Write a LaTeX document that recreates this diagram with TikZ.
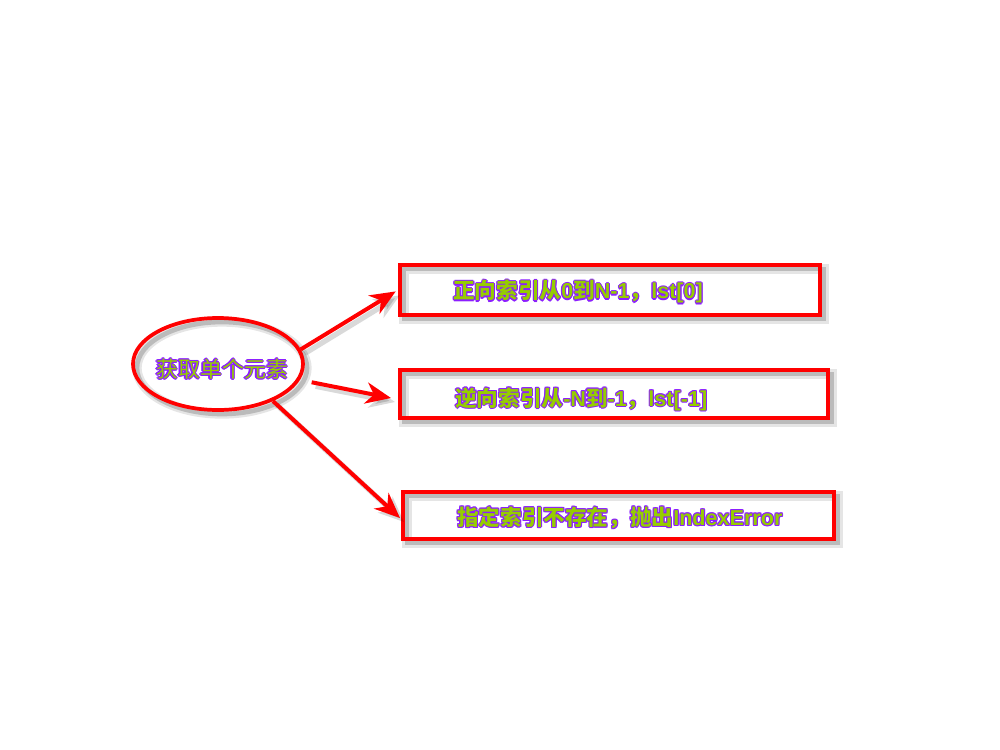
\documentclass[tikz,border=0pt]{standalone}
\usepackage{fontspec}
\setmainfont{Liberation Sans}
\newfontfamily\cjk{Noto Sans CJK SC}
\usetikzlibrary{arrows.meta,calc,shapes.geometric}
\definecolor{boxred}{RGB}{255,0,0}
\definecolor{halo}{RGB}{140,30,255}
\definecolor{txtc}{RGB}{150,205,0}
\newsavebox\hbx
\newcommand\hcopy[2]{\rlap{\hspace*{#1}\raisebox{#2}{\copy\hbx}}}
\newcommand\halo[1]{\setbox\hbx=\hbox{#1}{\color{halo}\hcopy{0.8pt}{0pt}\hcopy{-0.8pt}{0pt}\hcopy{0pt}{0.8pt}\hcopy{0pt}{-0.8pt}\hcopy{0.6pt}{0.6pt}\hcopy{-0.6pt}{0.6pt}\hcopy{0.6pt}{-0.6pt}\hcopy{-0.6pt}{-0.6pt}}{\color{txtc}\copy\hbx}}
\tikzset{
  shadowed/.style={
    preaction={draw=black, opacity=0.10, line width=7pt, transform canvas={xshift=3pt,yshift=-3pt}},
    preaction={draw=black, opacity=0.18, line width=3.5pt, transform canvas={xshift=3pt,yshift=-3pt}}},
  redbox/.style={draw=boxred, line width=3pt, rectangle, inner sep=0pt, shadowed},
  redell/.style={draw=boxred, line width=2.8pt, ellipse, inner sep=0pt, shadowed},
  boxtext/.style={anchor=west, font=\bfseries\fontsize{16.2}{20}\selectfont, inner sep=0pt},
  arr/.style={draw=boxred, line width=3pt, -{Stealth[length=19pt,width=16pt,inset=6pt]}},
  arrshadow/.style={draw=black, opacity=0.15, line width=4pt, -{Stealth[length=19pt,width=16pt,inset=6pt]}, transform canvas={xshift=3pt,yshift=-3pt}}
}
\begin{document}
\begin{tikzpicture}[x=0.75pt,y=-0.75pt]
\useasboundingbox (0,0) rectangle (1000,750);
\fill[white] (0,0) rectangle (1000,750);
% ellipse
\node[redell, minimum width=170*0.75pt, minimum height=92*0.75pt] (ell) at (218,364) {};
\node[font=\fontsize{16.5}{20}\selectfont, inner sep=0pt] (elltext) at (222,369) {\halo{\cjk 获取单个元素}};
% boxes
\node[redbox, minimum width=420*0.75pt, minimum height=50*0.75pt] (b1) at (610,290) {};
\node[redbox, minimum width=428*0.75pt, minimum height=48*0.75pt] (b2) at (614,394) {};
\node[redbox, minimum width=431*0.75pt, minimum height=47*0.75pt] (b3) at (618.5,515.5) {};
\node[boxtext] (t1) at (453,292) {\halo{{\cjk 正向索引从}0{\cjk 到}N-1{\cjk ，}lst[0]}};
\node[boxtext] (t2) at (455,399) {\halo{{\cjk 逆向索引从}-N{\cjk 到}-1{\cjk ，}lst[-1]}};
\node[boxtext] (t3) at (457,518) {\halo{{\cjk 指定索引不存在，抛出}IndexError}};
% arrows
\draw[arrshadow, shorten >=2pt] (ell.10) -- (b1.west);
\draw[arrshadow, shorten <=9pt] (ell.-11) -- ([shift={(-7,4)}]b2.west);
\draw[arrshadow] (ell.-34) -- ([shift={(-1,2.5)}]b3.west);
\draw[arr, shorten >=2pt] (ell.10) -- (b1.west);
\draw[arr, shorten <=9pt] (ell.-11) -- ([shift={(-7,4)}]b2.west);
\draw[arr] (ell.-34) -- ([shift={(-1,2.5)}]b3.west);
\end{tikzpicture}
\end{document}
